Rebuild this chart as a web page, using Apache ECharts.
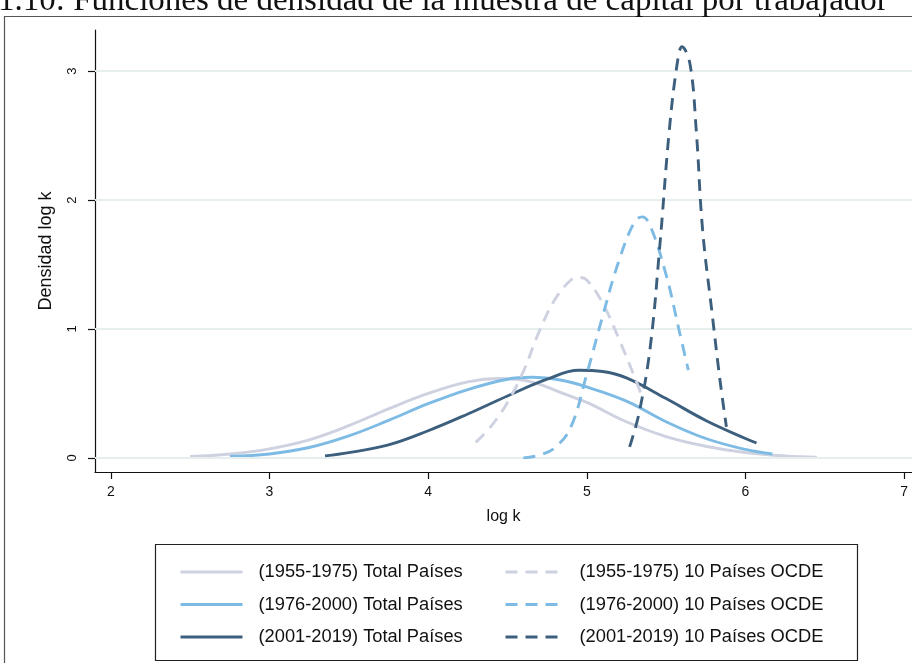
<!DOCTYPE html>
<html>
<head>
<meta charset="utf-8">
<script src="https://cdn.jsdelivr.net/npm/echarts@6/dist/echarts.min.js"></script>
<style>
html,body{margin:0;padding:0;background:#fff;}
#chart{width:912px;height:663px;}
</style>
</head>
<body>
<div id="chart"></div>
<script>
// ---- data ----
var seriesNames = [
  '(1955-1975) Total Países', '(1976-2000) Total Países', '(2001-2019) Total Países',
  '(1955-1975) 10 Países OCDE', '(1976-2000) 10 Países OCDE', '(2001-2019) 10 Países OCDE'
];
var xTicks = [2, 3, 4, 5, 6, 7];
var yTicks = [0, 1, 2, 3];

var total5575X = [2.5, 2.75, 3.0, 3.25, 3.5, 3.75, 4.0, 4.25, 4.45, 4.65, 4.85, 5.0, 5.25, 5.5, 5.75, 6.0, 6.25, 6.45];
var total5575Y = [0.01, 0.03, 0.07, 0.14, 0.25, 0.38, 0.50, 0.59, 0.615, 0.59, 0.50, 0.43, 0.28, 0.165, 0.09, 0.04, 0.015, 0.005];

var total7600X = [2.75, 3.0, 3.25, 3.5, 3.75, 4.0, 4.25, 4.5, 4.65, 4.85, 5.0, 5.25, 5.5, 5.75, 6.0, 6.17];
var total7600Y = [0.01, 0.03, 0.08, 0.17, 0.29, 0.42, 0.53, 0.61, 0.625, 0.60, 0.55, 0.44, 0.28, 0.15, 0.065, 0.03];

var total0119X = [3.35, 3.5, 3.75, 4.0, 4.25, 4.5, 4.75, 4.95, 5.1, 5.25, 5.5, 5.75, 6.0, 6.07];
var total0119Y = [0.015, 0.04, 0.10, 0.21, 0.34, 0.48, 0.61, 0.68, 0.67, 0.62, 0.46, 0.29, 0.15, 0.115];

var ocde5575X = [4.3, 4.4, 4.5, 4.6, 4.7, 4.8, 4.9, 4.95, 5.0, 5.1, 5.2, 5.3, 5.35];
var ocde5575Y = [0.12, 0.25, 0.43, 0.67, 0.98, 1.23, 1.38, 1.40, 1.38, 1.20, 0.93, 0.63, 0.47];

var ocde7600X = [4.6, 4.7, 4.8, 4.9, 5.0, 5.1, 5.2, 5.3, 5.35, 5.4, 5.5, 5.58, 5.64];
var ocde7600Y = [0.0, 0.02, 0.08, 0.24, 0.65, 1.10, 1.52, 1.83, 1.87, 1.80, 1.42, 1.0, 0.68];

var ocde0119X = [5.27, 5.33, 5.40, 5.46, 5.52, 5.57, 5.60, 5.65, 5.69, 5.73, 5.79, 5.84, 5.88];
var ocde0119Y = [0.085, 0.35, 0.86, 1.64, 2.54, 3.06, 3.19, 3.06, 2.54, 1.77, 1.12, 0.60, 0.24];

// ---- styling ----
var cGray = '#cdd1e0', cBlue = '#7dbbe4', cDark = '#3d5f7e';
var colors = [cGray, cBlue, cDark, cGray, cBlue, cDark];
var dash = [12, 8];

function zip(xs, ys) { return xs.map(function (x, i) { return [x, ys[i]]; }); }
var datasets = [
  zip(total5575X, total5575Y), zip(total7600X, total7600Y), zip(total0119X, total0119Y),
  zip(ocde5575X, ocde5575Y), zip(ocde7600X, ocde7600Y), zip(ocde0119X, ocde0119Y)
];

var series = [{
  type: 'line', data: [], z: 0, silent: true,
  markLine: {
    silent: true, symbol: ['none', 'none'], label: { show: false },
    lineStyle: { color: '#e6eeee', width: 1.8, type: 'solid' },
    emphasis: { disabled: true },
    data: yTicks.map(function (v) { return { yAxis: v }; })
  }
}];
datasets.forEach(function (d, i) {
  series.push({
    name: seriesNames[i], type: 'line', data: d, smooth: 0.4,
    symbol: 'none', showSymbol: false, z: 3 + i,
    lineStyle: { color: colors[i], width: 2.9, type: i >= 3 ? dash : 'solid', cap: 'butt' },
    itemStyle: { color: colors[i] }
  });
});

var legendText = { fontFamily: 'Liberation Sans, Arial, sans-serif', fontSize: 18.3, color: '#111' };

var option = {
  animation: false,
  backgroundColor: '#fff',
  grid: { left: 95, right: 0, top: 30, bottom: 663 - 472, containLabel: false },
  xAxis: {
    type: 'value', min: 1.9, max: 7.05,
    name: 'log k', nameLocation: 'middle', nameGap: 37,
    nameTextStyle: { fontFamily: 'Liberation Sans, Arial, sans-serif', fontSize: 16, color: '#111' },
    axisLine: { show: true, onZero: false, lineStyle: { color: '#111', width: 1.2 } },
    axisTick: { show: true, length: 7, customValues: xTicks, lineStyle: { color: '#111', width: 1.2 } },
    axisLabel: { customValues: xTicks, margin: 13, fontFamily: 'Liberation Sans, Arial, sans-serif', fontSize: 14, color: '#111' },
    splitLine: { show: false }
  },
  yAxis: {
    type: 'value', min: -0.11, max: 3.32,
    name: 'Densidad log k', nameLocation: 'middle', nameGap: 40,
    nameTextStyle: { fontFamily: 'Liberation Sans, Arial, sans-serif', fontSize: 18, color: '#111' },
    axisLine: { show: true, onZero: false, lineStyle: { color: '#111', width: 1.2 } },
    axisTick: { show: true, length: 7, customValues: yTicks, lineStyle: { color: '#111', width: 1.2 } },
    axisLabel: { customValues: yTicks, rotate: 90, margin: 16, fontFamily: 'Liberation Sans, Arial, sans-serif', fontSize: 13, color: '#111' },
    splitLine: { show: false }
  },
  legend: [{
    orient: 'vertical', left: 179, top: 563, padding: 0, itemGap: 14.5, itemWidth: 62, itemHeight: 20,
    data: seriesNames.slice(0, 3), textStyle: Object.assign({ padding: [0, 0, 0, 11] }, legendText),
    itemStyle: { opacity: 0, borderWidth: 0 }, lineStyle: { width: 3 },
    selectedMode: false
  }, {
    orient: 'vertical', left: 504, top: 563, padding: 0, itemGap: 14.5, itemWidth: 55, itemHeight: 20,
    data: seriesNames.slice(3), textStyle: Object.assign({ padding: [0, 0, 0, 14] }, legendText),
    itemStyle: { opacity: 0, borderWidth: 0 }, lineStyle: { width: 3 },
    selectedMode: false
  }],
  graphic: [
    { type: 'rect', z: -1, shape: { x: 4.5, y: 16.5, width: 1000, height: 1000 },
      style: { fill: null, stroke: '#555', lineWidth: 1.2 } },
    { type: 'rect', z: -1, shape: { x: 155.5, y: 544.5, width: 702, height: 116 },
      style: { fill: null, stroke: '#222', lineWidth: 1.2 } },
    { type: 'text', left: -2, top: -15, style: {
      text: '1.10: Funciones de densidad de la muestra de capital por trabajador',
      fontFamily: 'Liberation Serif, Times New Roman, serif', fontSize: 33, fill: '#111' } }
  ],
  series: series
};

var chart = echarts.init(document.getElementById('chart'), null, { renderer: 'canvas' });
chart.setOption(option);
</script>
</body>
</html>
